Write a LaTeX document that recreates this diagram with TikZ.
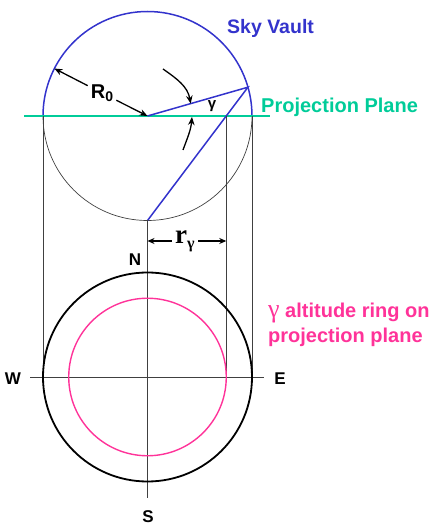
\documentclass[tikz,border=0pt]{standalone}
\usepackage{fontspec}
\setmainfont{Liberation Sans}
\newfontfamily\serifgreek{Liberation Serif}
\usetikzlibrary{arrows.meta,positioning,calc}
\definecolor{vaultblue}{RGB}{51,51,204}
\definecolor{planegreen}{RGB}{0,204,153}
\definecolor{ringpink}{RGB}{255,51,153}
\tikzset{
  lbl/.style={inner sep=0pt,font=\fontsize{20}{25}\selectfont\bfseries},
  compass/.style={inner sep=0pt,font=\fontsize{17}{18}\selectfont\bfseries},
  vault/.style={vaultblue,line width=1.5pt},
  plane/.style={planegreen,line width=2.8pt},
  guide/.style={black!75,line width=0.7pt},
  horizon/.style={black,line width=1.8pt},
  ring/.style={ringpink,line width=1.4pt},
  arr/.style={-{Stealth[length=8pt,width=6.5pt]},line width=1.3pt},
  dimarr/.style={{Stealth[length=7pt,width=6pt]}-{Stealth[length=7pt,width=6pt]},line width=1.4pt}
}
\begin{document}
\begin{tikzpicture}[x=1pt,y=1pt]
  \useasboundingbox (0,0) rectangle (436,525);
  % sky vault in section
  \coordinate (O) at (147.5,409);
  \coordinate (Vw) at ($(O)+(180:104.5pt)$);
  \coordinate (Ve) at ($(O)+(0:104.5pt)$);
  \coordinate (P) at ($(O)+(16:104.5pt)$);
  \coordinate (B) at ($(O)+(-90:104.5pt)$);
  \coordinate (Gw) at (24,409);
  \coordinate (Ge) at (270,409);
  \path (intersection of P--B and Gw--Ge) coordinate (Q);

  \draw[guide] (Vw) arc[start angle=180,end angle=360,radius=104.5pt];
  \draw[vault] (Vw) arc[start angle=180,end angle=0,radius=104.5pt];
  \draw[plane] (Gw) -- (Ge);
  \draw[vault] (O) -- (P) -- (B);

  \node[lbl,text=vaultblue,anchor=base west,font=\fontsize{19.5}{24}\selectfont\bfseries] (sky) at (227,491) {Sky Vault};
  \node[lbl,text=planegreen,anchor=base west] (proj) at (261,412) {Projection Plane};

  \node[lbl,inner sep=3pt] (R0) at (102,432) {R\raisebox{-3.5pt}{\fontsize{14}{14}\selectfont 0}};
  \draw[arr] (R0) -- ($(O)+(153:104.5pt)$);
  \draw[arr] (R0) -- (O);

  \coordinate (gtop) at (163,456);
  \coordinate (gbot) at (183,375);
  \draw[arr] (gtop) to[out=-35,in=100] ($(O)!0.43!(P)$);
  \draw[arr] (gbot) to[out=70,in=-95] (192,408);
  \node[inner sep=0pt,font=\fontsize{15}{15}\selectfont\bfseries] (gam) at (212,419) {γ};

  % plan view
  \coordinate (C) at (147.5,148);
  \coordinate (Lw) at (30,148);
  \coordinate (Le) at (264,148);
  \coordinate (Sx) at (147.5,27);

  \draw[guide] (Vw) -- (Vw |- C);
  \draw[guide] (Ve) -- (Ve |- C);
  \draw[guide] (Q) -- (Q |- C);
  \draw[guide] (B) -- (Sx);
  \draw[guide] (Lw) -- (Le);

  \draw[horizon] (C) circle[radius=104.5pt];
  \draw[ring] let \p1=($(Q)-(O)$) in (C) circle[radius=\x1];

  \coordinate (Dl) at (147.5,284);
  \coordinate (Dr) at (Q |- Dl);
  \draw[dimarr] (Dl) -- node[fill=white,inner xsep=3pt,inner ysep=0pt,xshift=-2pt]
      {{\serifgreek\bfseries\fontsize{27}{27}\selectfont r}\raisebox{-5pt}{\serifgreek\bfseries\fontsize{16}{16}\selectfont γ}} (Dr);

  \node[compass] (N) at (135,265.5) {N};
  \node[compass] (S) at (148,8.5) {S};
  \node[compass] (W) at (13,146) {W};
  \node[compass] (E) at (280,146) {E};

  \node[lbl,text=ringpink,align=left,anchor=north west] (ringlbl) at (268,222)
      {{\serifgreek\mdseries\fontsize{26}{25}\selectfont γ} altitude ring on\\projection plane};
\end{tikzpicture}
\end{document}
